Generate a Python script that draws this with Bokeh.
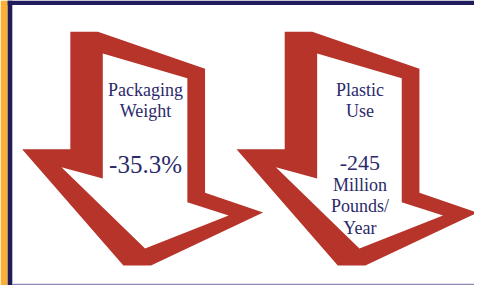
from bokeh.plotting import figure
from bokeh.models import Range1d, ColumnDataSource
from bokeh.core.properties import value
from bokeh.embed import file_html
from bokeh.resources import INLINE

# ---- data ----
metric_labels = [["Packaging", "Weight"], ["Plastic", "Use"]]
metric_values = ["-35.3%", "-245"]
metric_units = [[], ["Million", "Pounds/", "Year"]]

# ---- layout (reference pixel space 482 x 301) ----
W, H = 482, 301
arrow_anchor_x = [71, 289]
arrow_anchor_y = 33
# arrow template (outer outline and inner hole), relative to anchor
outer_dx = [0, 28, 137, 137, 196, 82, 54, -49, 0]
outer_dy = [0, 0, 39, 170, 191, 247, 247, 124, 124]
inner_dx = [33, 119, 119, 161, 76, -9, 33]
inner_dy = [23, 49, 180, 194, 229, 143, 155]

RED = "#B6342A"
NAVY = "#201C5C"
ORANGE = "#FBB034"
TEXT = "#2C2A6A"
LAV = "#8C88B8"
FONT = value("Liberation Serif")

p = figure(width=474, height=285, x_range=Range1d(0, W), y_range=Range1d(H, 0),
           output_backend="svg", toolbar_location=None, min_border=0)
p.axis.visible = False
p.grid.visible = False
p.outline_line_color = None
p.background_fill_color = "white"
p.border_fill_color = "white"

# frame
p.quad(left=[0], right=[7.3], bottom=[H], top=[0], fill_color=ORANGE, line_color=None)
p.quad(left=[7.3, 7.3], right=[12, W], bottom=[H, 4.7], top=[0, 0], fill_color=NAVY, line_color=None)
p.quad(left=[12], right=[W], bottom=[301], top=[299.2], fill_color=LAV, line_color=None)

# arrows
xs, ys = [], []
for ax in arrow_anchor_x:
    xs.append([[[ax + d for d in outer_dx], [ax + d for d in inner_dx]]])
    ys.append([[[arrow_anchor_y + d for d in outer_dy], [arrow_anchor_y + d for d in inner_dy]]])
p.multi_polygons(xs=xs, ys=ys, fill_color=RED, line_color=None)

# texts
cx_off = 76.5
lab = dict(x=[], y=[], t=[])
for i, lines in enumerate(metric_labels):
    for j, s in enumerate(lines):
        lab["x"].append(arrow_anchor_x[i] + cx_off)
        lab["y"].append(94 + j * 22.5)
        lab["t"].append(s)
for i, lines in enumerate(metric_units):
    for j, s in enumerate(lines):
        lab["x"].append(arrow_anchor_x[i] + cx_off)
        lab["y"].append(195 + j * 22.5)
        lab["t"].append(s)
p.text(x="x", y="y", text="t", source=ColumnDataSource(lab), text_font=FONT,
       text_font_size="18px", text_color=TEXT, text_align="center", text_baseline="alphabetic")

val_sizes = ["25px", "22px"]
val_y = [173.3, 171.7]
for i, v in enumerate(metric_values):
    p.text(x=[arrow_anchor_x[i] + cx_off], y=[val_y[i]], text=[v], text_font=FONT,
           text_font_size=val_sizes[i], text_color=TEXT, text_align="center", text_baseline="alphabetic")

open("out.html", "w").write(file_html(p, INLINE))
